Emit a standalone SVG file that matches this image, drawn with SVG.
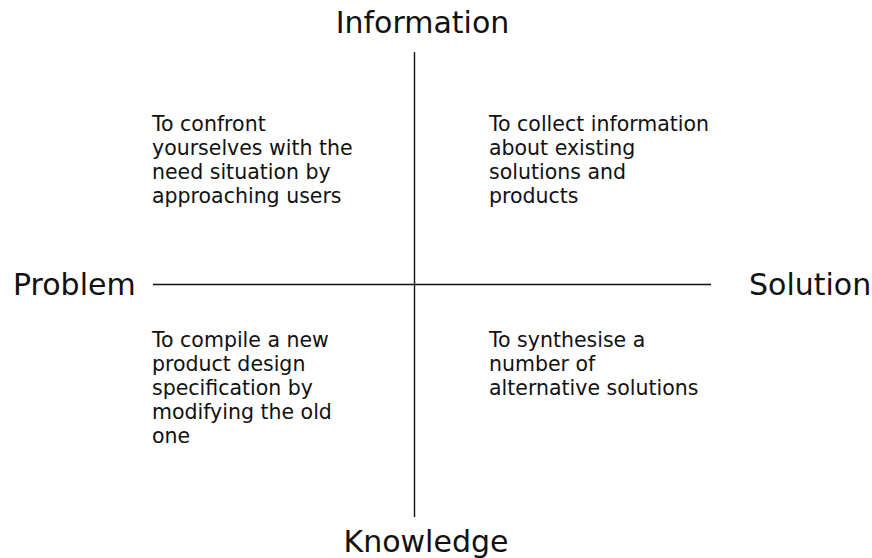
<svg xmlns="http://www.w3.org/2000/svg" width="872" height="558" viewBox="0 0 872 558">
  <style>
    .axis { stroke: #111; stroke-width: 1.4; fill: none; }
    .pole { font-family: "DejaVu Sans", Verdana, sans-serif; font-size: 30px; fill: #111; }
    .note { font-family: "DejaVu Sans", Verdana, sans-serif; font-size: 20.5px; fill: #111; }
  </style>
  <rect width="872" height="558" fill="#fff"/>

  <!-- axes -->
  <g id="connectors">
    <line class="axis" x1="414.5" y1="52" x2="414.5" y2="517"/>
    <line class="axis" x1="153" y1="284.5" x2="711" y2="284.5"/>
  </g>

  <!-- axis poles -->
  <g id="information"><text class="pole" x="422.5" y="33" text-anchor="middle">Information</text></g>
  <g id="knowledge"><text class="pole" x="426" y="552" text-anchor="middle">Knowledge</text></g>
  <g id="problem"><text class="pole" x="13" y="295">Problem</text></g>
  <g id="solution"><text class="pole" x="749" y="295">Solution</text></g>

  <!-- quadrant notes -->
  <g id="q-problem-information">
    <text class="note" x="152" y="131">To confront</text>
    <text class="note" x="152" y="155">yourselves with the</text>
    <text class="note" x="152" y="179">need situation by</text>
    <text class="note" x="152" y="203">approaching users</text>
  </g>
  <g id="q-solution-information">
    <text class="note" x="489" y="131">To collect information</text>
    <text class="note" x="489" y="155">about existing</text>
    <text class="note" x="489" y="179">solutions and</text>
    <text class="note" x="489" y="203">products</text>
  </g>
  <g id="q-problem-knowledge">
    <text class="note" x="152" y="347">To compile a new</text>
    <text class="note" x="152" y="371">product design</text>
    <text class="note" x="152" y="395">specification by</text>
    <text class="note" x="152" y="419">modifying the old</text>
    <text class="note" x="152" y="443">one</text>
  </g>
  <g id="q-solution-knowledge">
    <text class="note" x="489" y="347">To synthesise a</text>
    <text class="note" x="489" y="371">number of</text>
    <text class="note" x="489" y="395">alternative solutions</text>
  </g>
</svg>
